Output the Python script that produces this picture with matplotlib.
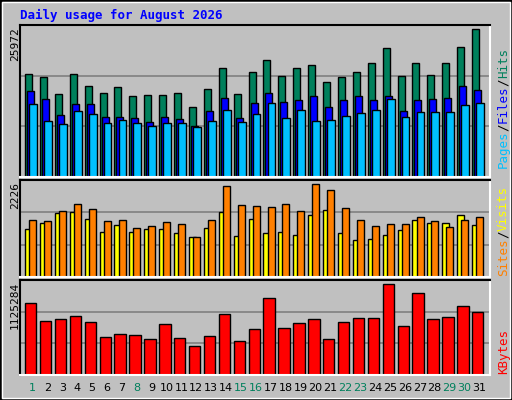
import matplotlib
matplotlib.use("Agg")
import matplotlib.pyplot as plt
from matplotlib.patches import Rectangle
import numpy as np

days = list(range(1, 32))
hits = [17600,17090,14180,17600,15550,14350,15380,13840,14010,14010,14350,11960,15040,18630,14180,17940,19990,17260,18630,19140,16230,17090,17940,19480,22040,17260,19480,17430,19480,22210,25290]
files = [14700,13330,10600,12480,12480,10250,10250,10080,9400,10250,9910,8720,11280,13500,10080,12650,14350,12820,13160,13840,11960,13160,13840,13160,13840,11280,13160,13330,13500,15550,14870]
pages = [12480,9570,9060,11280,10770,9230,9740,9230,8720,9230,9230,8550,9570,11450,9400,10770,12650,10080,11450,9570,9740,10430,10940,11450,13330,10250,11110,11110,11110,12300,12650]
visits = [1308,1285,1515,1675,1561,1285,1308,1125,1170,1262,1216,918,1308,2088,1652,1629,1606,1675,1515,2134,1997,1584,1308,1170,1216,1216,1377,1285,1148,1308,1377]
sites = [1102,1239,1469,1492,1331,1033,1193,1033,1102,1102,1010,918,1125,1492,941,1331,1010,1033,964,1423,1538,1010,849,872,964,1079,1308,1239,1239,1423,1193]
kbytes = [852800,639600,663300,698900,627800,450100,485600,473800,426400,604100,438300,343500,462000,722500,402700,544900,912100,556700,615900,663300,426400,627800,675200,675200,1077900,580400,971300,663300,687000,817300,746200]
weekend = [1, 8, 15, 16, 22, 23, 29, 30]
max_hits, max_visits, max_kb = 25972, 2226, 1125284

BG = "#C0C0C0"
fig = plt.figure(figsize=(5.12, 4.0), dpi=100, facecolor=BG)
mono = "DejaVu Sans Mono"

fig.patches.append(Rectangle((0, 0), 1, 1, transform=fig.transFigure, fill=False, ec="black", lw=2))
fig.patches.append(Rectangle((2/512, 2/400), 1-4/512, 1-4/400, transform=fig.transFigure, fill=False, ec="white", lw=1))

PX = 14.9
X0 = 1 - 5/PX
X1 = X0 + 470/PX
d = np.array(days)
def mkax(top, bot, ymax):
    ax = fig.add_axes([20/512, 1-bot/400, 470/512, (bot-top)/400])
    ax.set_facecolor(BG)
    ax.set_xlim(X0, X1)
    ax.set_ylim(0, ymax)
    for v in (ymax/3, 2*ymax/3):
        ax.axhline(v, color="#808080", lw=1.2, zorder=0)
    ax.set_xticks([]); ax.set_yticks([])
    for s in ("top", "left"):
        ax.spines[s].set_color("black"); ax.spines[s].set_linewidth(1.5)
    for s in ("bottom", "right"):
        ax.spines[s].set_color("white"); ax.spines[s].set_linewidth(1.5)
    return ax

ax1 = mkax(25, 177, max_hits)
kw = dict(align="edge", edgecolor="black", linewidth=1, zorder=2)
ax1.bar(d, hits, width=0.47, color="#00805C", **kw)
ax1.bar(d+0.14, files, width=0.47, color="#0000FF", **kw)
ax1.bar(d+0.28, pages, width=0.52, color="#00C0FF", **kw)

ax2 = mkax(180, 277, max_visits)
ax2.bar(d, sites, width=0.47, color="#FFFF00", **kw)
ax2.bar(d+0.28, visits, width=0.47, color="#FF8000", **kw)

ax3 = mkax(280, 375, max_kb)
ax3.bar(d, kbytes, width=0.77, color="#FF0000", **kw)

fig.text(20/512, 1-15/400, "Daily usage for August 2026", color="#0000FF",
         fontsize=9, fontweight="bold", family=mono, va="center", ha="left")

for ytop, val in ((27, max_hits), (182, max_visits), (282, max_kb)):
    fig.text(10/512, 1-ytop/400, str(val), rotation=90, fontsize=8, family=mono,
             va="top", ha="left", color="black")

fig.canvas.draw()
renderer = fig.canvas.get_renderer()
def rlabel(parts, ybot):
    y = ybot
    for txt, col in parts:
        t = fig.text(497/512, 1-y/400, txt, rotation=90, fontsize=9, family=mono,
                     color=col, va="bottom", ha="left")
        h = t.get_window_extent(renderer).height
        y -= h

rlabel([("Pages", "#00C0FF"), ("/", "black"), ("Files", "#0000FF"), ("/", "black"), ("Hits", "#00805C")], 168)
rlabel([("Sites", "#FF8000"), ("/", "black"), ("Visits", "#FFFF00")], 276)
rlabel([("KBytes", "#FF0000")], 374)

for day in days:
    x = 20 + (day + 0.5 - X0) * PX
    fig.text(x/512, 1-388/400, str(day), fontsize=8, ha="center", va="center",
             color="#00805C" if day in weekend else "black")

fig.savefig("out.png", dpi=100, facecolor=BG)
